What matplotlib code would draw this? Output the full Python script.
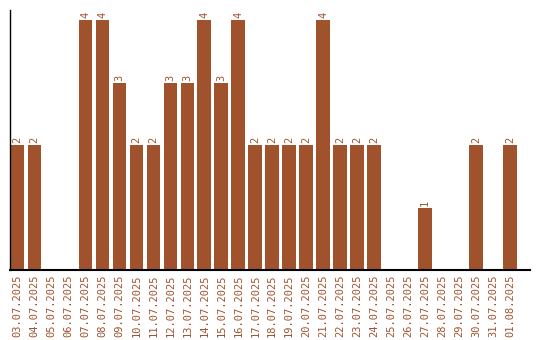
import matplotlib
matplotlib.use("Agg")
import matplotlib.pyplot as plt

dates = ["03.07.2025", "04.07.2025", "05.07.2025", "06.07.2025", "07.07.2025",
         "08.07.2025", "09.07.2025", "10.07.2025", "11.07.2025", "12.07.2025",
         "13.07.2025", "14.07.2025", "15.07.2025", "16.07.2025", "17.07.2025",
         "18.07.2025", "19.07.2025", "20.07.2025", "21.07.2025", "22.07.2025",
         "23.07.2025", "24.07.2025", "25.07.2025", "26.07.2025", "27.07.2025",
         "28.07.2025", "29.07.2025", "30.07.2025", "31.07.2025", "01.08.2025"]
counts = [2, 2, 0, 0, 4, 4, 3, 2, 2, 3, 3, 4, 3, 4, 2,
          2, 2, 2, 4, 2, 2, 2, 0, 0, 1, 0, 0, 2, 0, 2]

color = "#A0522D"

fig = plt.figure(figsize=(5.4, 3.4), dpi=100)
ax = fig.add_axes([10 / 540, 70 / 340, 520 / 540, 260 / 340])

x = range(len(dates))
ax.bar(x, counts, width=0.8, color=color)

# value labels above non-empty bars
for i, v in enumerate(counts):
    if v > 0:
        ax.text(i, v + 0.03, str(v), rotation=90, ha="center", va="bottom",
                color=color, fontsize=7.5, family="DejaVu Sans Mono")

ax.set_xlim(-0.44, len(dates) + 0.18)
ax.set_ylim(0, 4.16)
ax.set_xticks(list(x))
ax.set_xticklabels(dates, rotation=90, color=color, fontsize=7.5,
                   family="DejaVu Sans Mono")
ax.set_yticks([])
ax.tick_params(axis="x", length=0, pad=3)
for s in ["top", "right"]:
    ax.spines[s].set_visible(False)
ax.spines["left"].set_linewidth(1)
ax.spines["bottom"].set_linewidth(1.5)

fig.savefig("out.png", dpi=100)
